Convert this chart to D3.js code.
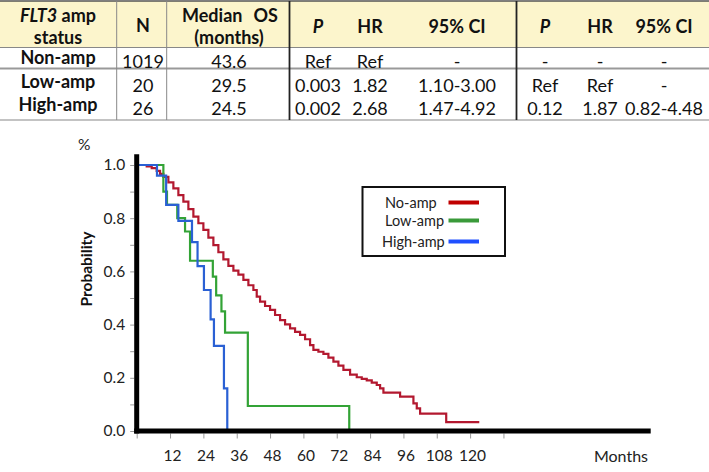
<!DOCTYPE html>
<html><head><meta charset="utf-8">
<script src="https://cdn.jsdelivr.net/npm/d3@7"></script>
<style>
body{margin:0;background:#fff;}
svg{display:block;font-family:Lato,"Open Sans",sans-serif;}
</style></head>
<body><svg id="c" width="709" height="472"></svg>
<script>
// ---- table data ----
const tableHeaders = ["FLT3 amp status","N","Median OS (months)","P","HR","95% CI","P","HR","95% CI"];
const tableStatus = ["Non-amp","Low-amp","High-amp"];
const tableN = ["1019","20","26"];
const tableMedian = ["43.6","29.5","24.5"];
const tableP1 = ["Ref","0.003","0.002"];
const tableHR1 = ["Ref","1.82","2.68"];
const tableCI1 = ["-","1.10-3.00","1.47-4.92"];
const tableP2 = ["-","Ref","0.12"];
const tableHR2 = ["-","Ref","1.87"];
const tableCI2 = ["-","-","0.82-4.48"];

// ---- survival data (months, probability) ----
const seriesNames = ["No-amp","Low-amp","High-amp"];
const noAmpMonths = [0,2,3.6,5.4,7.2,8.4,9.6,11.4,13.2,15,16.8,18.6,20.4,22.2,24,25.8,27.6,29.4,31.2,33,34.8,36.6,38.4,40.2,42,43.2,44.4,46.2,48,49.8,51.6,53.4,55.2,57,58.8,60.6,62.4,63.6,65.4,67.2,69,70.8,72.6,74.4,76.8,79.2,81,82.8,84.6,86.4,87.6,88.8,94.8,99.6,100.8,102,111.4,123.3];
const noAmpSurv = [1,1,0.995,0.988,0.978,0.967,0.955,0.935,0.912,0.887,0.862,0.834,0.806,0.781,0.756,0.727,0.699,0.672,0.645,0.621,0.603,0.588,0.568,0.548,0.530,0.505,0.486,0.470,0.455,0.436,0.417,0.401,0.386,0.373,0.361,0.345,0.323,0.305,0.298,0.290,0.276,0.261,0.246,0.230,0.212,0.202,0.196,0.190,0.182,0.173,0.160,0.144,0.129,0.104,0.085,0.065,0.033,0.033];
const lowAmpMonths = [0,9.6,10.9,14.6,17.4,19.2,27.4,28.6,30.5,31.8,40,76.5,76.5];
const lowAmpSurv = [1,0.90,0.85,0.80,0.75,0.64,0.58,0.51,0.45,0.37,0.094,0,0];
const highAmpMonths = [0,7.3,10.6,15,19.9,21.9,24.2,26.6,27.8,31.4,32.6,32.6];
const highAmpSurv = [1,0.96,0.85,0.79,0.71,0.62,0.53,0.42,0.32,0.16,0,0];
const xTicks = [0,12,24,36,48,60,72,84,96,108,120,132];
const xTickLabels = ["","12","24","36","48","60","72","84","96","108","120",""];
const yTicks = [0,0.1,0.2,0.3,0.4,0.5,0.6,0.7,0.8,0.9,1.0];
const curveColors = ["#b3182f","#33a336","#2a60d4"];
const legendColors = ["#c00000","#3a9a3a","#1f4fff"];

const svg = d3.select("#c");

// ---- table ----
const tbl = svg.append("g");
tbl.append("rect").attr("x",0).attr("y",1).attr("width",709).attr("height",46).attr("fill","#fcf5cc");
const hline=(y,w,c)=>tbl.append("line").attr("x1",0).attr("x2",709).attr("y1",y).attr("y2",y).attr("stroke",c).attr("stroke-width",w);
hline(1,1.5,"#555"); hline(47.5,1.2,"#888"); hline(68.5,2,"#999"); hline(120,1.2,"#888");
const vline=(x,w,c)=>tbl.append("line").attr("x1",x).attr("x2",x).attr("y1",1).attr("y2",120).attr("stroke",c).attr("stroke-width",w);
vline(116.7,1,"#888"); vline(166.7,1,"#888"); vline(289.5,1.8,"#222"); vline(516.5,1.8,"#222");

const FS = 18;
const colX = [58,143,229,318,370,457,545,600,664];
const T=(x,y,s,bold,italic,anchor)=>{const t=tbl.append("text").attr("x",x).attr("y",y).attr("text-anchor",anchor||"middle").attr("dominant-baseline","central").attr("font-size",FS).attr("fill","#111");
  if(bold)t.attr("font-weight","bold"); if(italic)t.attr("font-style","italic"); t.text(s); return t;};
// header
const h0 = tbl.append("text").attr("x",colX[0]).attr("y",15).attr("text-anchor","middle").attr("dominant-baseline","central").attr("font-size",FS).attr("font-weight","bold").attr("fill","#111");
h0.append("tspan").attr("font-style","italic").text(tableHeaders[0].split(" ")[0]);
h0.append("tspan").text(" amp");
T(colX[0],37,"status",true);
T(colX[1],25,tableHeaders[1],true);
T(182,15,"Median",true,false,"start");
T(278,15,"OS",true,false,"end");
T(colX[2],37,"(months)",true);
[3,6].forEach(i=>T(colX[i],26,tableHeaders[i],true,true));
[4,5,7,8].forEach(i=>T(colX[i],26,tableHeaders[i],true));
const rowLabelY=[57,81,104], rowDataY=[60.5,85,107.5];
const cols=[tableN,tableMedian,tableP1,tableHR1,tableCI1,tableP2,tableHR2,tableCI2];
tableStatus.forEach((s,r)=>{
  T(colX[0],rowLabelY[r],s,true);
  cols.forEach((c,ci)=>T(colX[ci+1],rowDataY[r],c[r],false));
});

// ---- chart ----
const x = d3.scaleLinear().domain([0,185]).range([136.7,650.7]);
const y = d3.scaleLinear().domain([0,1]).range([431,165]);

const g = svg.append("g");
// y ticks
const ya = g.append("g").attr("transform",`translate(${x(0)-2.5},0)`)
  .call(d3.axisLeft(y).tickValues(yTicks).tickSize(4).tickPadding(5)
        .tickFormat(d=> (Math.round(d*10)%2===0)? d3.format(".1f")(d):""));
ya.select(".domain").remove();
ya.selectAll("line").attr("stroke","#999");
ya.selectAll("text").attr("font-size",15.5).attr("font-family","Lato").attr("fill","#222");
// x ticks
const xa = g.append("g").attr("transform",`translate(0,${y(0)+2.5})`)
  .call(d3.axisBottom(x).tickValues(xTicks).tickSize(5).tickFormat((d,i)=>xTickLabels[i]));
xa.select(".domain").remove();
xa.selectAll("line").attr("stroke","#999");
xa.selectAll("text").attr("font-size",15.5).attr("font-family","Lato").attr("fill","#222")
  .attr("y",23).attr("dy","0.32em").attr("dx",2);

// curves
const line = d3.line().x(d=>x(d[0])).y(d=>y(d[1])).curve(d3.curveStepAfter);
const series = [d3.zip(noAmpMonths,noAmpSurv), d3.zip(lowAmpMonths,lowAmpSurv), d3.zip(highAmpMonths,highAmpSurv)];
series.forEach((s,i)=>{
  g.append("path").datum(s).attr("d",line).attr("fill","none")
   .attr("stroke",curveColors[i]).attr("stroke-width",2.2).attr("stroke-linejoin","miter");
});

// thick axes
g.append("line").attr("x1",x(0)).attr("x2",x(0)).attr("y1",y(1.04)).attr("y2",y(0)+2.5).attr("stroke","#000").attr("stroke-width",5);
g.append("line").attr("x1",x(0)-2.5).attr("x2",x(185)).attr("y1",y(0)).attr("y2",y(0)).attr("stroke","#000").attr("stroke-width",5);

// labels
svg.append("text").attr("x",78).attr("y",144).attr("dominant-baseline","central").attr("font-size",15.5).attr("fill","#222").text("%");
svg.append("text").attr("transform","translate(86,269) rotate(-90)").attr("text-anchor","middle").attr("dominant-baseline","central")
  .attr("font-size",15.5).attr("font-weight","bold").attr("fill","#111").text("Probability");
svg.append("text").attr("x",648).attr("y",455).attr("text-anchor","end").attr("dominant-baseline","central").attr("font-size",16).attr("fill","#222").text("Months");

// legend
const lg = svg.append("g");
lg.append("rect").attr("x",362.5).attr("y",187).attr("width",142.5).attr("height",69).attr("fill","#fff").attr("stroke","#111").attr("stroke-width",2);
const legY=[202.5,220.5,241.5], legTX=[385,385,382];
seriesNames.forEach((n,i)=>{
  lg.append("text").attr("x",legTX[i]).attr("y",legY[i]).attr("dominant-baseline","central").attr("font-size",14.5).attr("fill","#222").text(n);
  lg.append("line").attr("x1",448.5).attr("x2",479).attr("y1",legY[i]).attr("y2",legY[i]).attr("stroke",legendColors[i]).attr("stroke-width",4);
});
</script></body></html>
